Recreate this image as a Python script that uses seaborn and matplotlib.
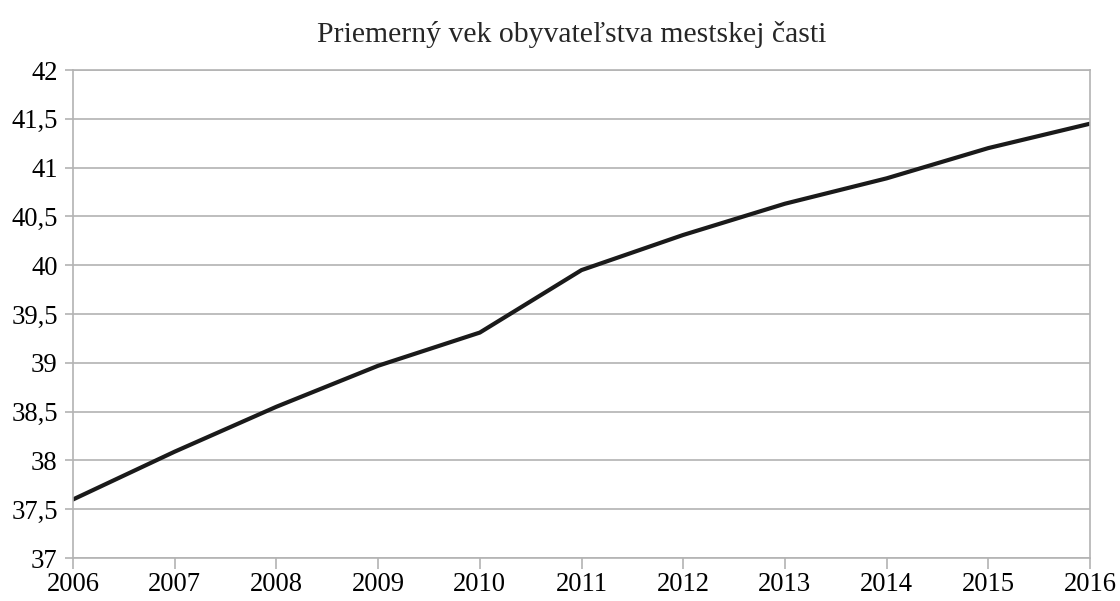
import pandas as pd
import seaborn as sns
import matplotlib.pyplot as plt
from matplotlib.ticker import FuncFormatter, MultipleLocator

# Data
years = [2006, 2007, 2008, 2009, 2010, 2011, 2012, 2013, 2014, 2015, 2016]
avg_age = [37.60, 38.09, 38.55, 38.97, 39.31, 39.95, 40.31, 40.63, 40.89, 41.20, 41.45]
title = "Priemerný vek obyvateľstva mestskej časti"

df = pd.DataFrame({"rok": years, "vek": avg_age})

sns.set_theme(style="white")
plt.rcParams["font.family"] = ["Liberation Serif", "DejaVu Serif"]

fig = plt.figure(figsize=(11.2, 6.01), dpi=100)
ax = fig.add_axes([0.0652, 0.0715, 0.908, 0.812])

sns.lineplot(data=df, x="rok", y="vek", color="#1a1a1a", linewidth=3, ax=ax)

ax.set_xlim(2006, 2016)
ax.set_ylim(37, 42)
ax.xaxis.set_major_locator(MultipleLocator(1))
ax.yaxis.set_major_locator(MultipleLocator(0.5))
ax.yaxis.set_major_formatter(FuncFormatter(lambda v, p: f"{v:g}".replace(".", ",")))

grid_col = "#b3b3b3"
ax.grid(axis="y", color=grid_col, linewidth=1.2)
ax.set_axisbelow(True)
for s in ax.spines.values():
    s.set_color(grid_col)
    s.set_linewidth(1.2)

ax.tick_params(axis="x", length=8, width=1.2, color=grid_col, labelsize=19.2, pad=2)
ax.tick_params(axis="y", length=6, width=1.2, color=grid_col, labelsize=19.2, pad=5)
ax.tick_params(axis="both", which="both", bottom=True, left=True, labelcolor="black")
ax.set_xlabel("")
ax.set_ylabel("")
ax.set_title(title, fontsize=21.4, pad=20, x=0.49)

fig.savefig("out.png", dpi=100)
